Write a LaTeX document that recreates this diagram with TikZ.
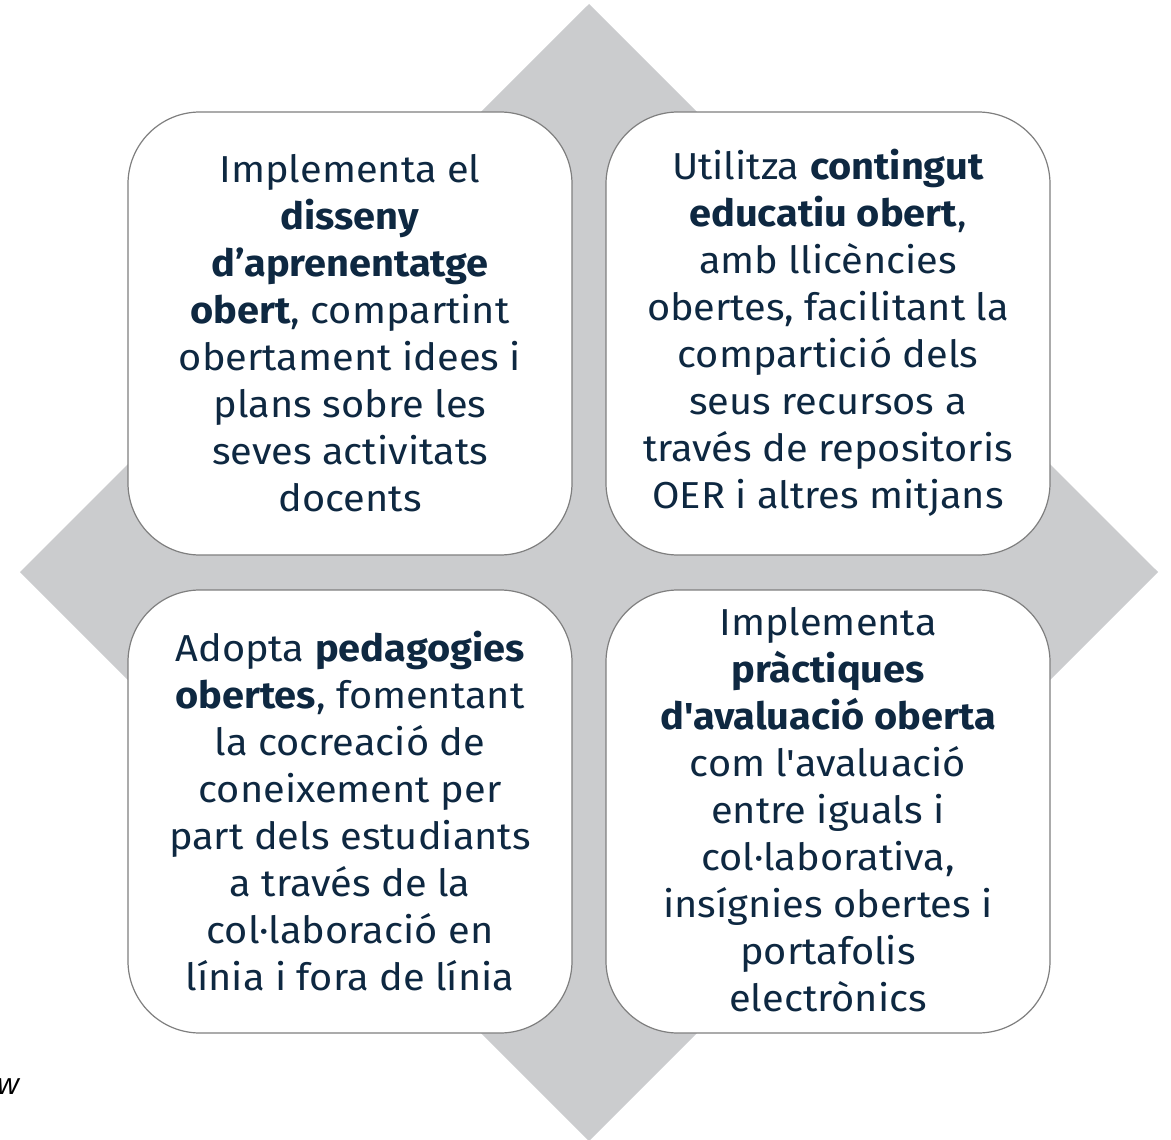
\documentclass[tikz,border=0pt]{standalone}
\usepackage{fontspec}
\setmainfont{Fira Sans}[Ligatures=TeXOff, FakeStretch=1.06]
\newfontfamily\wfont{Liberation Sans}
\definecolor{dgray}{HTML}{CBCCCE}
\definecolor{bline}{HTML}{7F7F7F}
\definecolor{navy}{HTML}{0E2841}
\tikzset{
  card/.style={draw=bline, line width=1.2pt, fill=white, rounded corners=72pt},
  cardtext/.style={align=center, text=navy, font=\fontsize{37.5}{47}\selectfont, inner sep=0pt},
}
\begin{document}
\begin{tikzpicture}[x=1pt,y=-1pt]
\useasboundingbox (0,0) rectangle (1171,1140);
\fill[white] (0,0) rectangle (1171,1140);
\fill[dgray] (589,4) -- (1158,572) -- (589,1141) -- (20,572) -- cycle;
\draw[card] (128,112) rectangle (572,555);
\draw[card] (606,112) rectangle (1050,555);
\draw[card] (128,590) rectangle (572,1033);
\draw[card] (606,590) rectangle (1050,1033);
\node[cardtext] (tl) at (350,333) {Implementa el\\ \textbf{disseny}\\ \textbf{d’aprenentatge}\\ \textbf{obert}, compartint\\ obertament idees i\\ plans sobre les\\ seves activitats\\ docents};
\node[cardtext] (tr) at (828,333) {Utilitza \textbf{contingut}\\ \textbf{educatiu obert},\\ amb llicències\\ obertes, facilitant la\\ compartició dels\\ seus recursos a\\ través de repositoris\\ OER i altres mitjans};
\node[cardtext] (bl) at (350,811) {Adopta \textbf{pedagogies}\\ \textbf{obertes}, fomentant\\ la cocreació de\\ coneixement per\\ part dels estudiants\\ a través de la\\ col·laboració en\\ línia i fora de línia};
\node[cardtext] (br) at (828,810) {Implementa\\ \textbf{pràctiques}\\ \textbf{d'avaluació oberta}\\ com l'avaluació\\ entre iguals i\\ col·laborativa,\\ insígnies obertes i\\ portafolis\\ electrònics};
\node[anchor=base east, inner sep=0pt, font=\wfont\itshape\fontsize{30}{36}\selectfont] (w) at (19,1094) {w};
\end{tikzpicture}
\end{document}
